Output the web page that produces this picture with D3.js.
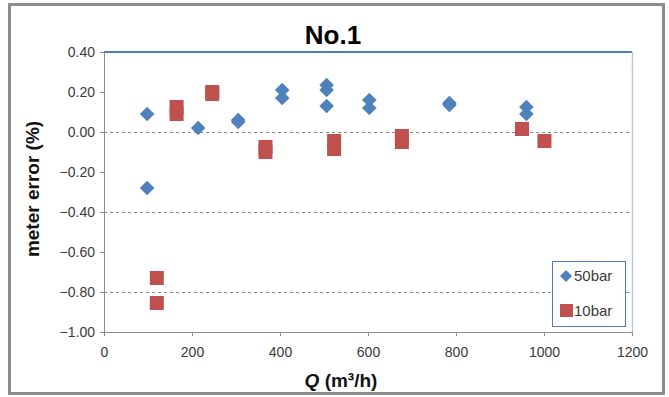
<!DOCTYPE html>
<html>
<head>
<meta charset="utf-8">
<script src="https://cdn.jsdelivr.net/npm/d3@7"></script>
<style>
  body { margin: 0; background: #fff; }
  text { font-family: "Liberation Sans", Arial, sans-serif; }
</style>
</head>
<body>
<div id="figure-container"></div>
<script>
// flow Q (m3/h) and meter error (%)
var q50 = [98, 98, 214, 305, 305, 405, 405, 506, 506, 506, 603, 603, 785, 785, 960, 960];
var e50 = [0.09, -0.28, 0.02, 0.06, 0.05, 0.21, 0.17, 0.235, 0.21, 0.13, 0.16, 0.12, 0.145, 0.135, 0.125, 0.09];

var q10 = [120, 120, 165, 165, 246, 246, 367, 367, 523, 523, 677, 677, 950, 1001];
var e10 = [-0.73, -0.855, 0.125, 0.09, 0.20, 0.19, -0.075, -0.10, -0.045, -0.085, -0.02, -0.05, 0.015, -0.045];

var xTicks = [0, 200, 400, 600, 800, 1000, 1200];
var yTicks = [0.4, 0.2, 0, -0.2, -0.4, -0.6, -0.8, -1.0];
var yGrid = [0, -0.4, -0.8];
var seriesNames = ['50bar', '10bar'];

var W = 669, H = 397;
var margin = {top: 52, right: 37, bottom: 65, left: 104};

var xScale = d3.scaleLinear().domain([0, 1200]).range([margin.left, W - margin.right]);
var yScale = d3.scaleLinear().domain([-1, 0.4]).range([H - margin.bottom, margin.top]);

var svg = d3.select('#figure-container')
  .append('svg')
  .attr('width', W)
  .attr('height', H);

// outer chart frame
svg.append('rect')
  .attr('x', 9.5).attr('y', 4.5)
  .attr('width', 654).attr('height', 389)
  .attr('fill', '#fff')
  .attr('stroke', '#8c8c8c')
  .attr('stroke-width', 3);

// gridlines
svg.append('g')
  .selectAll('line')
  .data(yGrid)
  .enter().append('line')
  .attr('x1', xScale(0)).attr('x2', xScale(1200))
  .attr('y1', d => yScale(d) + 0.5).attr('y2', d => yScale(d) + 0.5)
  .attr('stroke', '#8a8a8a')
  .attr('stroke-dasharray', '3,3');

// plot area top / right border
svg.append('line')
  .attr('x1', xScale(0)).attr('x2', xScale(1200))
  .attr('y1', yScale(0.4)).attr('y2', yScale(0.4))
  .attr('stroke', '#4a7ebb').attr('stroke-width', 2);
svg.append('line')
  .attr('x1', xScale(1200) + 0.5).attr('x2', xScale(1200) + 0.5)
  .attr('y1', yScale(0.4)).attr('y2', yScale(-1))
  .attr('stroke', '#b4c9e4').attr('stroke-width', 1.5);

var xAxis = d3.axisBottom(xScale).tickValues(xTicks).tickSize(4).tickSizeOuter(0)
  .tickFormat(d3.format('d'));
var yAxis = d3.axisLeft(yScale).tickValues(yTicks).tickSize(4).tickSizeOuter(0)
  .tickFormat(d3.format('.2f'));

var gx = svg.append('g')
  .attr('class', 'axis x')
  .attr('transform', `translate(0,${yScale(-1)})`)
  .call(xAxis);
var gy = svg.append('g')
  .attr('class', 'axis y')
  .attr('transform', `translate(${xScale(0)},0)`)
  .call(yAxis);

[gx, gy].forEach(function(g) {
  g.select('.domain').attr('stroke', '#8c8c8c');
  g.selectAll('.tick line').attr('stroke', '#8c8c8c');
  g.selectAll('.tick text')
    .attr('fill', '#3a3a3a')
    .style('font-size', '14px')
    .style('font-family', '"Liberation Sans", Arial, sans-serif');
});
gx.selectAll('.tick text').attr('dy', '1.25em');
gy.selectAll('.tick text').attr('x', -9);

// markers
function diamond(r) {
  return `M0,${-r}L${r},0L0,${r}L${-r},0Z`;
}

svg.append('g')
  .selectAll('path')
  .data(d3.range(q50.length))
  .enter().append('path')
  .attr('d', diamond(7.3))
  .attr('transform', i => `translate(${xScale(q50[i])},${yScale(e50[i])})`)
  .attr('fill', '#4f81bd');

svg.append('g')
  .selectAll('rect')
  .data(d3.range(q10.length))
  .enter().append('rect')
  .attr('x', i => xScale(q10[i]) - 7)
  .attr('y', i => yScale(e10[i]) - 7)
  .attr('width', 14).attr('height', 14)
  .attr('fill', '#c0504d');

// legend
var legend = svg.append('g').attr('transform', 'translate(552,261)');
legend.append('rect')
  .attr('x', 0.5).attr('y', 0.5)
  .attr('width', 73).attr('height', 65)
  .attr('fill', '#fff')
  .attr('stroke', '#4a7ebb');
legend.append('path')
  .attr('d', diamond(6))
  .attr('transform', 'translate(14,15)')
  .attr('fill', '#4f81bd');
legend.append('rect')
  .attr('x', 8).attr('y', 43)
  .attr('width', 13).attr('height', 13)
  .attr('fill', '#c0504d');
legend.selectAll('text')
  .data(seriesNames)
  .enter().append('text')
  .attr('x', 22)
  .attr('y', (d, i) => 20 + i * 35)
  .attr('fill', '#3a3a3a')
  .style('font-size', '15px')
  .text(d => d);

// titles
svg.append('text')
  .attr('x', 333).attr('y', 44)
  .attr('text-anchor', 'middle')
  .style('font-size', '26px')
  .style('font-weight', 'bold')
  .text('No.1');

svg.append('text')
  .attr('transform', 'translate(39,189) rotate(-90)')
  .attr('text-anchor', 'middle')
  .style('font-size', '19px')
  .style('font-weight', 'bold')
  .attr('fill', '#111')
  .text('meter error (%)');

var xt = svg.append('text')
  .attr('x', 341).attr('y', 387)
  .attr('text-anchor', 'middle')
  .style('font-size', '19px')
  .style('font-weight', 'bold')
  .attr('fill', '#111');
xt.append('tspan').style('font-style', 'italic').text('Q');
xt.append('tspan').text(' (m³/h)');
</script>
</body>
</html>
